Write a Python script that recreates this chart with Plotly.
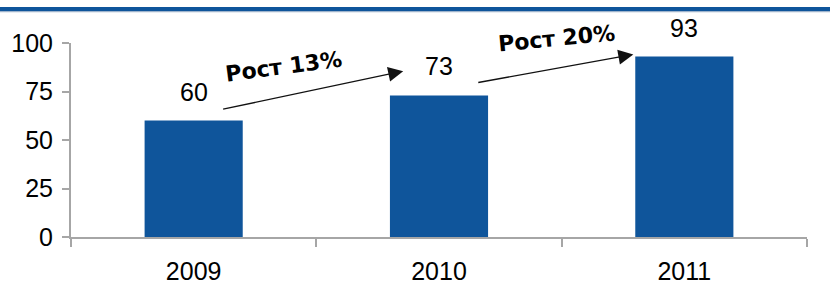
import plotly.graph_objects as go

years = ["2009", "2010", "2011"]
values = [60, 73, 93]
growth_labels = ["Рост 13%", "Рост 20%"]
y_ticks = [0, 25, 50, 75, 100]

BLUE = "#0f559b"
GRAY = "#a6a6a6"
FONT = "Liberation Sans, Arial, sans-serif"
BOLD_FONT = "DejaVu Sans, Liberation Sans, Arial, sans-serif"
Y_MAX = 100

fig = go.Figure()
fig.add_trace(go.Bar(
    x=years, y=values, marker=dict(color=BLUE, line=dict(width=0)),
    width=0.40, cliponaxis=False, hoverinfo="skip",
))

annotations = []
# value labels (numeric category index on the category axis)
for i, v in enumerate(values):
    annotations.append(dict(
        x=i, y=v, xref="x", yref="y", text=str(v), showarrow=False,
        xanchor="center", yanchor="middle", yshift=29,
        font=dict(family=FONT, size=25, color="#000"),
    ))

# growth arrows (tail -> tip in axis units) and rotated labels
arrow_geo = [
    dict(tail=(0.114, 65.7), tip=(0.854, 85.5), text_at=(0.368, 87.7), angle=-7.5),
    dict(tail=(1.154, 79.5), tip=(1.792, 94.1), text_at=(1.477, 102.3), angle=-5.5),
]
for lab, g in zip(growth_labels, arrow_geo):
    annotations.append(dict(
        x=g["tip"][0], y=g["tip"][1], ax=g["tail"][0], ay=g["tail"][1],
        xref="x", yref="y", axref="x", ayref="y", text="", showarrow=True,
        arrowhead=2, arrowsize=2.3, arrowwidth=1.3, arrowcolor="#111", standoff=0,
    ))
    annotations.append(dict(
        x=g["text_at"][0], y=g["text_at"][1] / Y_MAX, xref="x", yref="paper",
        xanchor="center", yanchor="middle",
        text="<b>" + lab + "</b>", showarrow=False, textangle=g["angle"],
        font=dict(family=BOLD_FONT, size=22, color="#000"),
    ))

fig.update_layout(
    width=830, height=284,
    margin=dict(l=71, r=23, t=43, b=47, pad=0, autoexpand=False),
    paper_bgcolor="white", plot_bgcolor="white",
    showlegend=False,
    annotations=annotations,
    shapes=[
        dict(type="rect", xref="paper", yref="paper",
             x0=-71 / 736, x1=1 + 23 / 736,
             y0=(237 - 11) / 194, y1=(237 - 7) / 194,
             fillcolor=BLUE, line=dict(width=0), layer="above"),
        dict(type="rect", xref="paper", yref="paper",
             x0=-71 / 736, x1=1 + 23 / 736,
             y0=(237 - 12.3) / 194, y1=(237 - 11) / 194,
             fillcolor="#9fb4cc", line=dict(width=0), layer="above"),
    ],
    xaxis=dict(
        type="category", range=[-0.5, 2.5], automargin=False,
        showline=True, linecolor=GRAY, linewidth=2,
        ticks="outside", tickson="boundaries", ticklen=8, tickwidth=2, tickcolor=GRAY,
        showgrid=False, zeroline=False,
        tickfont=dict(family=FONT, size=25, color="#000"),
        ticklabelstandoff=11,
        fixedrange=True,
    ),
    yaxis=dict(
        range=[0, Y_MAX], tickvals=y_ticks, automargin=False,
        showline=True, linecolor=GRAY, linewidth=2,
        ticks="outside", ticklen=7, tickwidth=2, tickcolor=GRAY,
        showgrid=False, zeroline=False,
        tickfont=dict(family=FONT, size=25, color="#000"),
        ticklabelstandoff=4,
        fixedrange=True,
    ),
)

fig.write_html(
    "out.html",
    config={"displayModeBar": False},
    post_script="document.body.style.margin='0';document.body.style.overflow='hidden';",
)
